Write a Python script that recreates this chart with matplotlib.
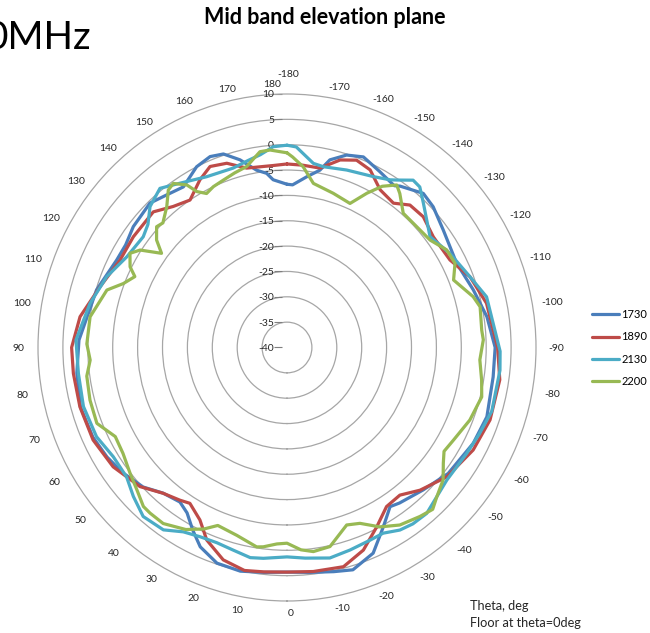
import numpy as np
import matplotlib
matplotlib.use('Agg')
import matplotlib.pyplot as plt
from matplotlib.transforms import offset_copy

plt.rcParams['font.family'] = ['Lato', 'DejaVu Sans']

# ---------------- data (theta in deg, gain in dB) ----------------
series_names = ['1730', '1890', '2130', '2200']
series_colors = ['#4A7EBB', '#BE4B48', '#4BACC6', '#98B954']

theta_1730 = [-180, -178, -173.3, -169.3, -166.9, -162.5, -157.8, -151.9, -146, -144.5,
              -138, -133.4, -126.4, -116, -106.9, -98.6, -90, -82, -71.2, -63.2,
              -52.5, -44.2, -36.4, -33.4, -28.7, -23.1, -16.8, -12, -6, 0,
              6, 12, 18.3, 23.9, 27.7, 31.6, 35.2, 40.9, 46.4, 53.1,
              59.1, 65.6, 74.2, 83.2, 92, 106.5, 116.8, 122, 127.7, 136,
              141.2, 146.7, 153, 157.7, 161.5, 165.7, 170.1, 173.2, 175.2, 180]
gain_1730 = [-7.8, -7.9, -6.1, -4.4, -2.0, -0.2, 0.6, -0.6, -1.5, -0.9,
             0.9, 0.4, -1.0, -2.1, -0.9, 0.6, 1.8, 1.8, 2.4, 1.9,
             0.8, -0.8, -1.9, -2.4, 0.3, 4.1, 5.8, 5.2, 4.6, 4.3,
             4.6, 5.1, 4.8, 3.0, 0.7, -1.7, -2.7, -2.0, -0.1, 1.2,
             2.1, 2.8, 3.1, 2.5, 1.8, -0.1, -1.7, -1.8, -1.0, -0.4,
             -1.4, -2.1, 0.0, 0.7, 0.25, -1.8, -4.5, -5.4, -6.8, -7.8]

theta_1890 = [-180, -175, -169.4, -163.9, -159.3, -154.5, -149, -143.1, -138.7, -133.3,
              -126.6, -117.8, -110.8, -102.3, -90, -81.5, -70.7, -61.6, -51.5, -43.5,
              -37.9, -32.5, -27, -21, -14.7, -6.8, 0, 6, 11, 17,
              23, 27.2, 32.4, 35.5, 40.8, 47.1, 56, 64.9, 74.3, 83.2,
              90, 98.3, 107.7, 117.2, 125.3, 134.9, 140.6, 146.2, 152.1, 156.6,
              161.6, 167.1, 175.5, 180]
gain_1890 = [-3.8, -3.9, -4.0, -1.5, -0.5, -1.2, -3.7, -4.4, -2.6, -2.4,
             -3.4, -3.0, -0.7, 1.0, 2.3, 3.2, 3.2, 2.5, 1.0, -1.2,
             -3.1, -2.8, -0.3, 2.8, 4.7, 4.5, 4.3, 4.5, 4.8, 3.8,
             1.25, -1.75, -3.6, -3.0, -2.0, 0.3, 2.1, 3.0, 3.2, 3.2,
             3.25, 2.0, -0.6, -2.3, -2.2, -2.1, -4.0, -5.0, -2.6, -1.1,
             -1.7, -3.7, -4.0, -3.8]

theta_2130 = [-180, -177.3, -171.7, -168.4, -161.1, -152.8, -148, -146.3, -142.5, -139.9,
              -136.1, -127.3, -119.6, -110.8, -104, -89, -84, -73, -66, -60,
              -50.8, -40.6, -36, -32.2, -27.8, -23.7, -17.6, -11.7, -5, 0,
              6.5, 10.1, 15.1, 20.1, 25, 29.8, 34.6, 40.9, 46.4, 51.6,
              58.3, 65.3, 74.1, 83, 92, 102.4, 111.1, 119.1, 127.1, 131,
              135.3, 140.9, 146.4, 154.4, 163, 168, 172, 176, 180]
gain_2130 = [-0.1, -0.4, -3.3, -3.6, -3.0, -2.1, -1.0, -0.3, 1.6, 1.4,
             -0.5, -3.9, -2.4, -0.7, 1.3, 2.8, 3.0, 3.0, 2.2, 1.7,
             1.4, 3.1, 3.0, 2.55, 1.4, 1.5, 1.9, 2.4, 1.7, 1.3,
             1.85, 2.1, 1.4, 1.0, 1.2, 1.9, 3.7, 4.1, 2.6, 1.1,
             1.0, 2.1, 2.5, 2.2, 2.4, 0.5, -1.2, -3.2, -3.8, -3.0,
             -0.9, 0.45, -1.1, -2.65, -3.0, -2.3, -1.6, -0.3, -0.1]

theta_2200 = [-180, -178.3, -174.8, -170.7, -163, -156, -152.2, -149, -145.5, -143.3,
              -138.6, -132.5, -126.4, -121, -116.2, -111.7, -105, -101.7, -95, -92.2,
              -86.4, -80.7, -76, -68.7, -61.4, -57, -54, -50.2, -45.6, -42.5,
              -38.7, -32.9, -27.8, -22.9, -18.9, -12.4, -7.5, -4, 0, 3,
              6.9, 8.8, 15.2, 21.6, 25, 29.5, 35.6, 40.1, 42.6, 47,
              51.8, 57.6, 63, 68.6, 75.3, 82, 86.4, 91, 98.7, 107.4,
              111, 114.6, 116.8, 120.5, 123.1, 126.4, 129, 132.3, 134.6, 139,
              142.5, 144.8, 147.9, 149.5, 152, 155, 158.8, 163, 167.2, 172,
              175, 180]
gain_2200 = [-1.6, -2.4, -4.2, -7.2, -8.2, -8.9, -5.6, -2.9, -1.1, -2.1,
             -4.7, -4.7, -4.3, -2.6, -2.4, -4.0, -1.3, -0.4, -0.75, -0.55,
             -1.2, -0.4, 0.3, -0.6, -1.9, -2.4, -1.2, 0.8, 2.1, 3.3,
             2.7, 1.7, 0.0, -2.35, -3.0, 0.2, 0.6, 0.0, -1.4, -1.2,
             -0.4, -0.2, -1.6, -2.25, -0.5, 1.25, 2.7, 2.7, 2.6, 1.2,
             0.1, -1.0, -1.3, 1.0, 0.9, 0.6, -0.4, 0.2, 0.0, -2.1,
             -4.8, -6.4, -4.7, -3.4, -4.8, -8.7, -6.3, -4.6, -5.0, -3.2,
             -0.85, -0.4, -2.15, -4.3, -5.6, -5.0, -4.6, -4.0, -3.4, -1.0,
             -0.9, -1.6]

ring_levels = [-35, -30, -25, -20, -15, -10, -5, 0, 5]
radial_labels = [-40, -35, -30, -25, -20, -15, -10, -5, 0, 5, 10]
angle_labels = list(range(-170, 180, 10)) + [180, -180]
r_min, r_max = -40, 10

title_text = 'Mid band elevation plane'
slide_text = '0MHz'
note_lines = ['Theta, deg', 'Floor at theta=0deg']

# ---------------- figure ----------------
W, H = 650, 633
fig = plt.figure(figsize=(W / 100, H / 100), dpi=100)
fig.patch.set_facecolor('white')

cx, cy, rx, ry = 287, 347.5, 249, 253.5
ax = fig.add_axes([(cx - rx) / W, (H - cy - ry) / H, 2 * rx / W, 2 * ry / H],
                  projection='polar')
ax.set_aspect('auto')
ax.set_theta_zero_location('S')
ax.set_theta_direction(-1)
ax.set_ylim(r_min, r_max)

ax.set_xticks([])
ax.set_yticks(ring_levels)
ax.set_yticklabels([])
ax.tick_params(axis='y', length=0)
ax.yaxis.grid(True, color='#A6A6A6', lw=0.9)
ax.xaxis.grid(False)
ax.spines['polar'].set_color('#A6A6A6')
ax.spines['polar'].set_linewidth(0.9)

# radial labels and ticks on the top axis
for v in radial_labels:
    ax.annotate(str(v), xy=(np.pi, v), xytext=(-13, 0), textcoords='offset pixels',
                ha='right', va='center_baseline', fontsize=7.5, color='#262626')
tick_tr = offset_copy(ax.transData, fig=fig, x=-9, y=0, units='dots')
ax.plot([np.pi] * len(radial_labels), radial_labels, ls='none', marker='_',
        ms=6, mew=0.8, color='#7F7F7F', transform=tick_tr, clip_on=False)

# angle labels
for a in angle_labels:
    ar = np.deg2rad(a)
    if a == 0:
        ad = -0.9
        rn = 1.045
    elif a == -180:
        ad = -179.8
        rn = 1.08
    else:
        c = np.cos(ar)
        if a > 0:
            k = 3.2 if c < 0 else 1.0
            ad = a + k * c
        else:
            k = 1.5 if c < 0 else 2.2
            ad = a - k * c
        rn = 1.045 + 0.035 * abs(np.sin(ar))
    ax.text(np.deg2rad(ad), r_min + (r_max - r_min) * rn, str(a),
            ha='center', va='center_baseline', fontsize=7.5, color='#262626',
            clip_on=False)

# series
thetas = [theta_1730, theta_1890, theta_2130, theta_2200]
gains = [gain_1730, gain_1890, gain_2130, gain_2200]
handles = []
for i, (th, g) in enumerate(zip(thetas, gains)):
    h, = ax.plot(np.deg2rad(th), g, color=series_colors[i], lw=2.3,
                 solid_joinstyle='round', solid_capstyle='round',
                 label=series_names[i], zorder=3 + i)
    handles.append(h)

ax.legend(handles=handles, loc='center left',
          bbox_to_anchor=(592 / W, 1 - 348 / H), bbox_transform=fig.transFigure,
          frameon=False, fontsize=8, handlelength=2.4, handletextpad=0.25,
          labelspacing=1.0, borderpad=0, borderaxespad=0)

# texts
fig.text(324.5 / W, 1 - 24 / H, title_text, ha='center', va='baseline',
         fontsize=15.5, fontweight='bold', color='black')
fig.text(-14 / W, 1 - 49 / H, slide_text, ha='left', va='baseline',
         fontsize=28, color='black')
fig.text(470 / W, 1 - 610 / H, note_lines[0], ha='left', va='baseline',
         fontsize=9.2, color='#262626')
fig.text(470 / W, 1 - 627.3 / H, note_lines[1], ha='left', va='baseline',
         fontsize=9.2, color='#262626')

fig.savefig('out.png', dpi=100, facecolor='white')
